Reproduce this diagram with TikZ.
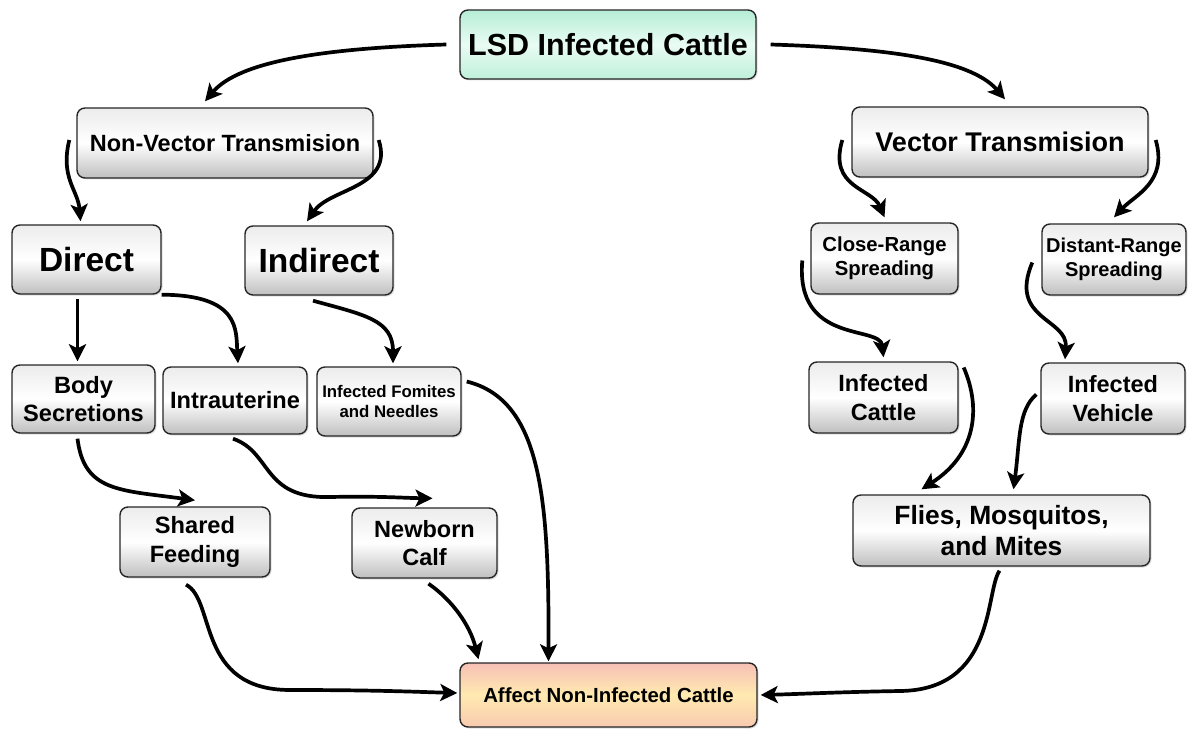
\documentclass[tikz,border=0pt]{standalone}
\usepackage{fontspec}
\setmainfont{Liberation Sans}
\usetikzlibrary{arrows.meta,calc,shadows}
\definecolor{mintT}{HTML}{B5EDD5}
\definecolor{mintM}{HTML}{E9FCF4}
\definecolor{mintB}{HTML}{BFF0DA}
\definecolor{affT}{HTML}{F7C0B6}
\definecolor{affM}{HTML}{FFEAB0}
\definecolor{affB}{HTML}{F8CAB0}
\tikzset{
  box/.style={draw=black!85, line width=1.4pt, rounded corners=8pt, align=center,
    top color=gray!15, bottom color=gray!50, middle color=white,
    inner sep=2pt,
    drop shadow={shadow xshift=1.5pt,shadow yshift=-1.5pt,opacity=0.25}},
  greenbox/.style={box, top color=mintT, bottom color=mintB, middle color=mintM},
  affbox/.style={box, top color=affT, bottom color=affB, middle color=affM},
  conn/.style={line width=3.7pt, -{Stealth[length=17pt,width=17pt,inset=4pt]}, black}
}
\newcommand{\fs}[1]{\bfseries\fontsize{#1}{1.2\dimexpr #1pt\relax}\selectfont}
\begin{document}
\begin{tikzpicture}[x=1pt,y=-1pt]
\useasboundingbox (0,0) rectangle (1189,730);
% nodes
\node[greenbox, minimum width=296pt, minimum height=69pt, font=\fs{30.5}] (lsd) at (608,44.5) {LSD Infected Cattle};
\node[box, minimum width=296pt, minimum height=70pt, font=\fs{23.5}] (nv) at (225,143) {Non-Vector Transmision};
\node[box, minimum width=296pt, minimum height=70pt, font=\fs{27}] (vt) at (1000,142) {Vector Transmision};
\node[box, minimum width=149pt, minimum height=69pt, font=\fs{33.5}] (dir) at (86.5,259.5) {Direct};
\node[box, minimum width=148pt, minimum height=69pt, font=\fs{33.5}] (ind) at (319,260.5) {Indirect};
\node[box, minimum width=147pt, minimum height=71pt, font=\fs{20.3}] (cr) at (884.5,258.5) {Close-Range\\Spreading};
\node[box, minimum width=144pt, minimum height=71pt, font=\fs{20}] (dr) at (1114,259.5) {Distant-Range\\Spreading};
\node[box, minimum width=143pt, minimum height=68pt, font=\fs{23.6}] (bs) at (83.5,399) {Body\\Secretions};
\node[box, minimum width=144pt, minimum height=67pt, font=\fs{23.6}] (iu) at (235,400.5) {Intrauterine};
\node[box, minimum width=144pt, minimum height=69pt, font=\fs{16.8}] (ifn) at (389,401.5) {Infected Fomites\\and Needles};
\node[box, minimum width=150pt, minimum height=70pt, font=\fs{23.6}] (sf) at (195,542) {Shared\\Feeding};
\node[box, minimum width=145pt, minimum height=70pt, font=\fs{23.5}] (nc) at (424.5,543) {Newborn\\Calf};
\node[box, minimum width=149pt, minimum height=71pt, font=\fs{23.5}] (ic) at (883.5,397.5) {Infected\\Cattle};
\node[box, minimum width=144pt, minimum height=71pt, font=\fs{23.5}] (iv) at (1113,398.5) {Infected\\Vehicle};
\node[box, minimum width=297pt, minimum height=71pt, font=\fs{26.4}] (fl) at (1001.5,530.5) {Flies, Mosquitos,\\and Mites};
\node[affbox, minimum width=297pt, minimum height=64pt, font=\fs{20.4}] (aff) at (608.5,695) {Affect Non-Infected Cattle};
% connectors
\draw[conn] ($(lsd.west)+(-13,0)$) .. controls (330,48) and (240,60) .. ($(nv.north)+(-20,-6)$);
\draw[conn] ($(lsd.east)+(14,0)$) .. controls (880,48) and (970,58) .. ($(vt.north)+(5,-7)$);
\draw[conn] ($(nv.west)+(-7,-3)$) .. controls (60,178) and (78,190) .. ($(dir.north)+(-6,-3)$);
\draw[conn] ($(nv.east)+(5,-3)$) .. controls (394,188) and (330,188) .. ($(ind.north)+(-12,-4)$);
\draw[conn] ($(vt.west)+(-9,-2)$) .. controls (828,188) and (872,188) .. ($(cr.north)+(0,-5)$);
\draw[conn] ($(vt.east)+(7,-2)$) .. controls (1168,182) and (1135,195) .. ($(dr.north)+(0,-6)$);
\draw[conn] ($(dir.south)+(-9,4)$) -- ($(bs.north)+(-6,-3)$);
\draw[conn] ($(dir.south east)+(0,0)$) .. controls (240,295) and (236,330) .. ($(iu.north)+(3,-3)$);
\draw[conn] ($(ind.south)+(-6,5)$) .. controls (365,315) and (393,320) .. ($(ifn.north)+(4,-3)$);
\draw[conn] ($(cr.west)+(-8,2)$) .. controls (795,345) and (880,325) .. ($(ic.north)+(0,-4)$);
\draw[conn] ($(dr.west)+(-9,3)$) .. controls (1008,320) and (1068,318) .. ($(iv.north)+(-48,-3)$);
\draw[conn] ($(bs.south)+(-6,5)$) .. controls (84,492) and (120,490) .. ($(sf.north)+(0,-6)$);
\draw[conn] ($(iu.south)+(-2,4)$) .. controls (272,452) and (262,499) .. (330,497) .. controls (380,496) and (405,498) .. ($(nc.north)+(8,-9)$);
\draw[conn] ($(ifn.east)+(5,-20)$) .. controls (542,400) and (549,500) .. ($(aff.north)+(-60,-1)$);
\draw[conn] ($(sf.south)+(-9,7)$) .. controls (216,600) and (196,690) .. (290,690) .. controls (380,690) and (420,692) .. ($(aff.west)+(-2,-2)$);
\draw[conn] ($(nc.south)+(4,5)$) .. controls (452,600) and (470,625) .. ($(aff.north)+(-130,-3)$);
\draw[conn] ($(ic.east)+(5,-30)$) .. controls (982,410) and (975,455) .. ($(fl.north)+(-80,-5)$);
\draw[conn] ($(iv.west)+(-4,-4)$) .. controls (1018,410) and (1020,440) .. ($(fl.north)+(12,-5)$);
\draw[conn] ($(fl.south)+(-2,4)$) .. controls (985,592) and (996,690) .. (900,691) .. controls (840,692) and (800,694) .. ($(aff.east)+(3,0)$);
\end{tikzpicture}
\end{document}
